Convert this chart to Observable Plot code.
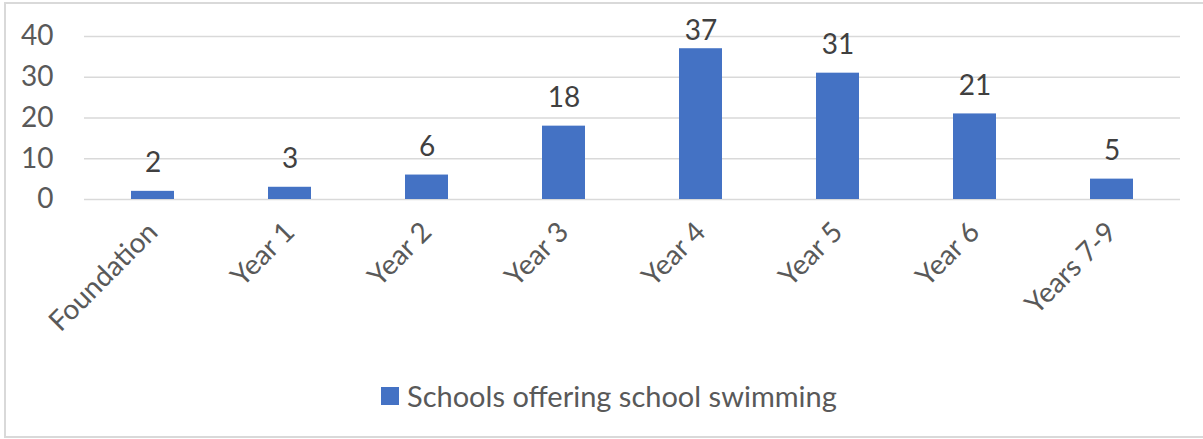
<!DOCTYPE html>
<html>
<head>
<meta charset="utf-8">
<script src="https://cdn.jsdelivr.net/npm/d3@7"></script>
<script src="https://cdn.jsdelivr.net/npm/@observablehq/plot@0.6"></script>
<style>
  html, body { margin: 0; padding: 0; background: #fff; }
  body { position: relative; width: 1203px; height: 439px; overflow: hidden; font-family: Lato, "Open Sans", sans-serif; }
  #frame { position: absolute; left: 4px; top: 2px; width: 1215px; height: 436px; border: 2px solid #d9d9d9; box-sizing: border-box; }
  #chart { position: absolute; left: 0; top: 0; }
  #legend { position: absolute; left: 381px; top: 378px; display: flex; align-items: center; color: #595959; font-size: 29px; white-space: nowrap; }
  #legend .sw { width: 18px; height: 18px; background: #4472c4; margin-right: 8px; }
</style>
</head>
<body>
<div id="frame"></div>
<div id="chart"></div>
<div id="legend"><div class="sw"></div><span>Schools offering school swimming</span></div>
<script>
const categories = ["Foundation", "Year 1", "Year 2", "Year 3", "Year 4", "Year 5", "Year 6", "Years 7-9"];
const values = [2, 3, 6, 18, 37, 31, 21, 5];
const yTicks = [0, 10, 20, 30, 40];
const seriesName = "Schools offering school swimming";
const labelCap = 34.5; // data labels are kept inside the chart area, as in the original

const data = categories.map((c, i) => ({category: c, value: values[i]}));

const H = 370;
const chart = Plot.plot({
  width: 1203,
  height: H,
  marginLeft: 84,
  marginRight: 23,
  marginTop: 36,
  marginBottom: H - 199,
  style: {fontFamily: "Lato, 'Open Sans', sans-serif", background: "transparent"},
  x: {domain: categories, paddingInner: 0.686, paddingOuter: 0.343, label: null},
  y: {domain: [0, 40], label: null},
  marks: [
    Plot.gridY(yTicks, {stroke: "#d9d9d9", strokeOpacity: 1, strokeWidth: 1.5}),
    Plot.barY(data, {x: "category", y: "value", fill: "#4472c4"}),
    Plot.text(data, {x: "category", y: d => Math.min(d.value, labelCap), text: d => String(d.value), lineAnchor: "bottom", dy: -19, fontSize: 28, fill: "#404040"}),
    Plot.axisY(yTicks, {tickSize: 0, tickPadding: 31, fontSize: 28, color: "#595959", label: null}),
    Plot.axisX({tickSize: 0, tickRotate: -45, tickPadding: 28, fontSize: 28, color: "#595959", label: null})
  ]
});
document.getElementById("chart").appendChild(chart);
</script>
</body>
</html>
